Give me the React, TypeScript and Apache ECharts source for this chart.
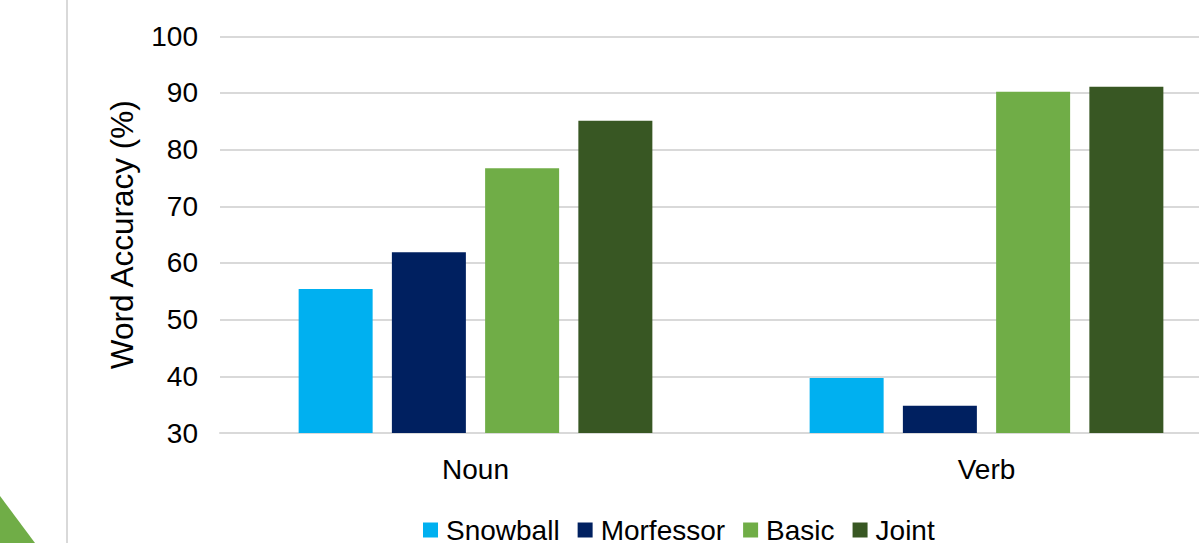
import React, { useEffect, useRef } from "react";
import * as echarts from "echarts";

const categories = ["Noun", "Verb"];
const seriesNames = ["Snowball", "Morfessor", "Basic", "Joint"];
const snowball = [55.4, 39.7];
const morfessor = [61.9, 34.8];
const basic = [76.7, 90.2];
const joint = [85.1, 91.1];
const seriesColors = ["#00b0f0", "#002060", "#70ad47", "#385723"];

const FONT = "'Liberation Sans', Arial, Helvetica, sans-serif";

export default function App() {
  const ref = useRef<HTMLDivElement>(null);

  useEffect(() => {
    document.body.style.margin = "0";
    if (!ref.current) return;
    const chart = echarts.init(ref.current, undefined, { renderer: "svg" });
    const values = [snowball, morfessor, basic, joint];

    chart.setOption({
      animation: false,
      backgroundColor: "#ffffff",
      textStyle: { fontFamily: FONT },
      // plot area runs past the right edge of the canvas
      grid: {
        left: 220,
        width: 1022,
        top: 36.3,
        height: 396.7,
        containLabel: false,
        outerBoundsMode: "none",
      },
      legend: {
        data: seriesNames,
        left: 418,
        bottom: -6,
        itemWidth: 15,
        itemHeight: 15,
        itemGap: 18,
        icon: "rect",
        textStyle: { fontSize: 28, color: "#000000", fontFamily: FONT, padding: [0, 0, 0, 3] },
      },
      xAxis: {
        type: "category",
        data: categories,
        axisLine: { show: true, lineStyle: { color: "#d9d9d9", width: 2 } },
        axisTick: { show: false },
        axisLabel: { fontSize: 28, color: "#000000", margin: 22, fontFamily: FONT },
      },
      yAxis: {
        type: "value",
        min: 30,
        max: 100,
        interval: 10,
        name: "Word Accuracy (%)",
        nameLocation: "middle",
        nameGap: 82,
        nameTextStyle: { fontSize: 31.5, color: "#000000", fontFamily: FONT },
        axisLine: { show: false },
        axisTick: { show: false },
        axisLabel: { fontSize: 28, color: "#000000", margin: 22, fontFamily: FONT },
        splitLine: { lineStyle: { color: "#d9d9d9", width: 2 } },
      },
      series: seriesNames.map((name, i) => ({
        name,
        type: "bar",
        data: values[i],
        barWidth: 74,
        barGap: "26%",
        itemStyle: { color: seriesColors[i] },
      })),
      graphic: [
        {
          type: "line",
          shape: { x1: 67, y1: 0, x2: 67, y2: 543 },
          style: { stroke: "#d9d9d9", lineWidth: 2 },
          silent: true,
        },
        {
          type: "polygon",
          shape: { points: [[0, 496], [35, 543], [0, 543]] },
          style: { fill: "#70ad47" },
          silent: true,
        },
      ],
    });

    return () => chart.dispose();
  }, []);

  return <div ref={ref} style={{ width: 1199, height: 543 }} />;
}
